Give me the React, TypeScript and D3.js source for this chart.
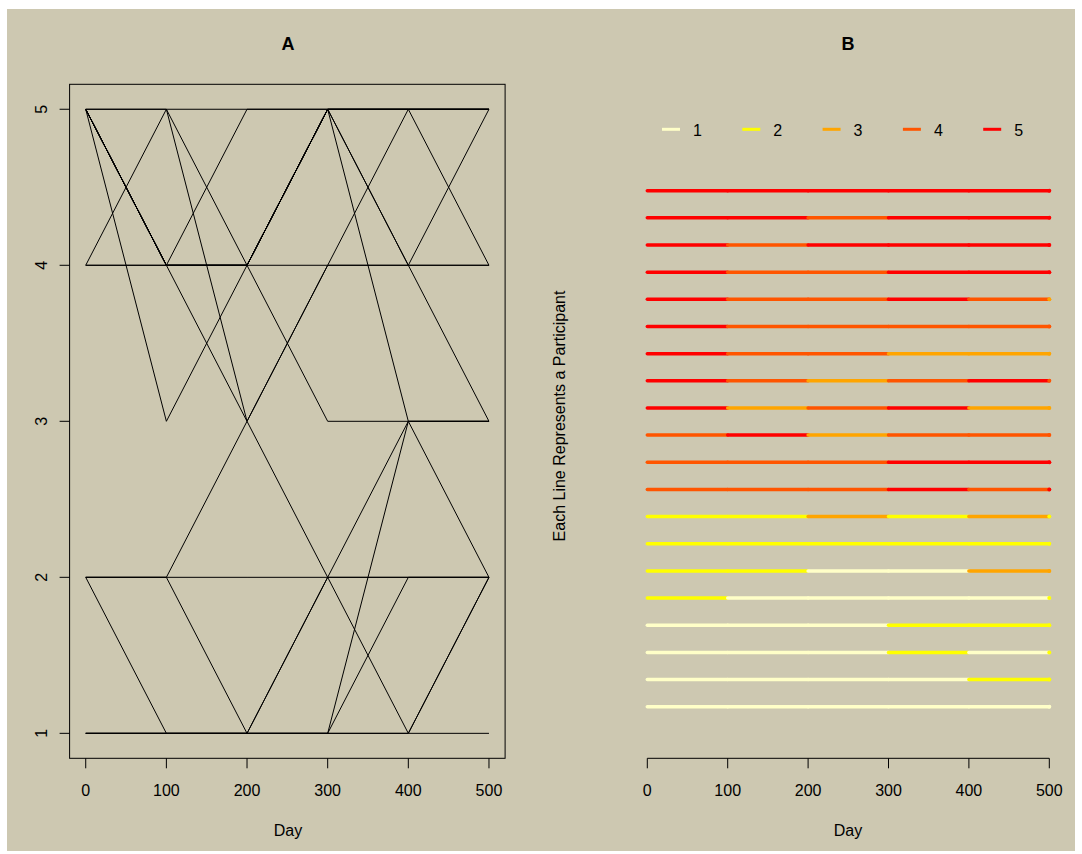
import React from "react";
import * as d3 from "d3";

// Data
const days = [0, 100, 200, 300, 400, 500];
const stateLabels = ["1", "2", "3", "4", "5"];
const stateColors = ["#FFFFC8", "#FFFF00", "#FFA500", "#FF5500", "#FF0000"];
const yTicksA = [1, 2, 3, 4, 5];
// Participants listed top row to bottom row of panel B; values at each day
const participants: number[][] = [
  [5, 5, 5, 5, 5, 5],
  [5, 5, 4, 5, 5, 5],
  [5, 4, 5, 5, 5, 5],
  [5, 4, 4, 5, 5, 5],
  [5, 4, 4, 5, 4, 3],
  [5, 4, 4, 4, 4, 4],
  [5, 4, 4, 3, 3, 3],
  [5, 4, 3, 4, 5, 4],
  [5, 3, 4, 5, 3, 3],
  [4, 5, 3, 4, 4, 4],
  [4, 4, 4, 5, 5, 5],
  [4, 4, 4, 5, 4, 5],
  [2, 2, 3, 2, 3, 2],
  [2, 2, 2, 2, 2, 2],
  [2, 2, 1, 1, 3, 3],
  [2, 1, 1, 1, 1, 2],
  [1, 1, 1, 2, 2, 2],
  [1, 1, 1, 2, 1, 2],
  [1, 1, 1, 1, 2, 2],
  [1, 1, 1, 1, 1, 1],
];

const FONT = "'Liberation Sans', Arial, Helvetica, sans-serif";

export default function App() {
  // Panel A scales
  const xA = d3.scaleLinear().domain([-20, 520]).range([69.6, 505.1]);
  const yA = d3.scaleLinear().domain([0.84, 5.16]).range([758.3, 84.3]);
  // Panel B scales
  const xB = d3.scaleLinear().domain([0, 500]).range([647.3, 1049.3]);
  const yB = d3
    .scalePoint<number>()
    .domain(participants.map((_, i) => i))
    .range([190.7, 706.7]);

  const lineA = d3
    .line<number>()
    .x((_, i) => xA(days[i]))
    .y((v) => yA(v));

  const tickBottomA = 758.3;
  const axisB = 758.3;

  return (
    <svg
      width={1082}
      height={854}
      style={{ position: "absolute", left: 0, top: 0 }}
      fontFamily={FONT}
    >
      <rect x={0} y={0} width={1082} height={854} fill="#ffffff" />
      <rect x={7} y={9} width={1068} height={842} fill="#CDC8B1" />

      {/* Panel A */}
      <text x={288} y={49.5} textAnchor="middle" fontSize={18} fontWeight="bold">
        A
      </text>
      <g fill="none" stroke="#000" strokeWidth={1}>
        {participants.map((p, i) => (
          <path key={i} d={lineA(p) || ""} />
        ))}
      </g>
      <rect
        x={xA(-20)}
        y={yA(5.16)}
        width={xA(520) - xA(-20)}
        height={yA(0.84) - yA(5.16)}
        fill="none"
        stroke="#000"
        strokeWidth={1}
      />
      {days.map((d) => (
        <g key={"xa" + d}>
          <line x1={xA(d)} x2={xA(d)} y1={tickBottomA} y2={tickBottomA + 10} stroke="#000" />
          <text x={xA(d)} y={795.5} textAnchor="middle" fontSize={16}>
            {d}
          </text>
        </g>
      ))}
      {yTicksA.map((v) => (
        <g key={"ya" + v}>
          <line x1={xA(-20) - 10} x2={xA(-20)} y1={yA(v)} y2={yA(v)} stroke="#000" />
          <text
            transform={`translate(46.5,${yA(v)}) rotate(-90)`}
            textAnchor="middle"
            fontSize={16}
          >
            {v}
          </text>
        </g>
      ))}
      <text x={288} y={836} textAnchor="middle" fontSize={16}>
        Day
      </text>

      {/* Panel B */}
      <text x={848} y={49.5} textAnchor="middle" fontSize={18} fontWeight="bold">
        B
      </text>
      {stateLabels.map((s, i) => {
        const x0 = 662 + i * 80.3;
        return (
          <g key={"leg" + s}>
            <line
              x1={x0}
              x2={x0 + 18}
              y1={129.3}
              y2={129.3}
              stroke={stateColors[i]}
              strokeWidth={3}
            />
            <text x={x0 + 31} y={136} fontSize={16}>
              {s}
            </text>
          </g>
        );
      })}
      {participants.map((p, r) => (
        <g key={"row" + r}>
          {p.slice(0, -1).map((v, k) => (
            <line
              key={k}
              x1={xB(days[k])}
              x2={xB(days[k + 1])}
              y1={yB(r)}
              y2={yB(r)}
              stroke={stateColors[v - 1]}
              strokeWidth={3.5}
              strokeLinecap="round"
            />
          ))}
          <circle
            cx={xB(days[days.length - 1])}
            cy={yB(r)}
            r={2}
            fill={stateColors[p[p.length - 1] - 1]}
          />
        </g>
      ))}
      <line x1={xB(0)} x2={xB(500)} y1={axisB} y2={axisB} stroke="#000" />
      {days.map((d) => (
        <g key={"xb" + d}>
          <line x1={xB(d)} x2={xB(d)} y1={axisB} y2={axisB + 10} stroke="#000" />
          <text x={xB(d)} y={795.5} textAnchor="middle" fontSize={16}>
            {d}
          </text>
        </g>
      ))}
      <text x={848} y={836} textAnchor="middle" fontSize={16}>
        Day
      </text>
      <text
        transform="translate(565,416) rotate(-90)"
        textAnchor="middle"
        fontSize={16}
      >
        Each Line Represents a Participant
      </text>
    </svg>
  );
}
